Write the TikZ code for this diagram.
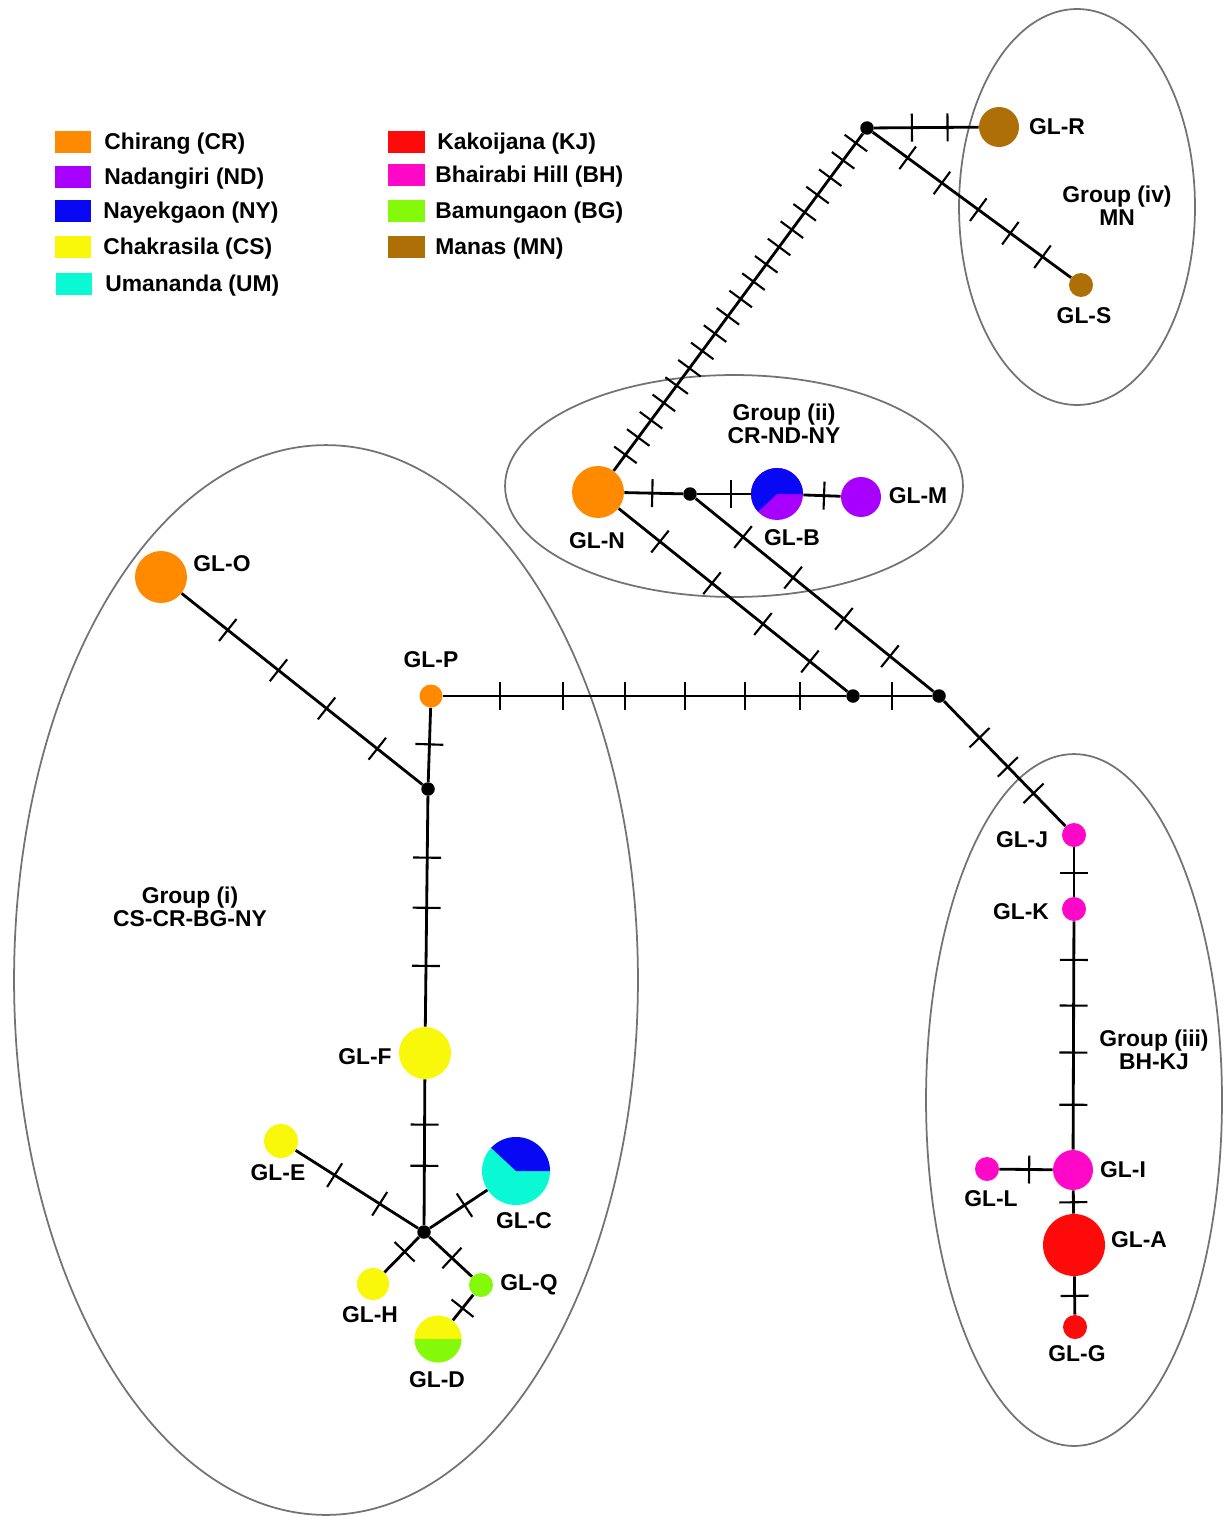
\documentclass[tikz,border=0pt]{standalone}
\usepackage{fontspec}
\setmainfont{Liberation Sans}
\usetikzlibrary{calc}
\definecolor{cr}{RGB}{255,138,0}
\definecolor{nd}{RGB}{168,0,255}
\definecolor{ny}{RGB}{8,8,245}
\definecolor{cs}{RGB}{250,248,10}
\definecolor{um}{RGB}{10,248,212}
\definecolor{kj}{RGB}{255,10,10}
\definecolor{bh}{RGB}{255,8,200}
\definecolor{bg}{RGB}{132,250,10}
\definecolor{mn}{RGB}{174,112,6}
\newcommand{\muts}[3]
{
	\foreach \pp in {#3}
		\draw[mutline] ($(#1)!\pp!(#2)!0.28cm!90:(#2)$) -- ($(#1)!\pp!(#2)!0.28cm!-90:(#2)$);
}
\tikzset{
	hap/.style={circle, inner sep=0pt, minimum size=#1},
	vert/.style={circle, fill=black, inner sep=0pt, minimum size=0.27cm},
	branch/.style={line width=1.6pt},
	mutline/.style={line width=1.2pt},
	lbl/.style={font=\bfseries\fontsize{13}{13}\selectfont, inner sep=0pt},
	grp/.style={draw=black!55, line width=1pt},
	sq/.style={inner sep=0pt, minimum width=0.74cm, minimum height=0.44cm},
}

\begin{document}
\begin{tikzpicture}[x=0.02cm, y=-0.02cm]
	\useasboundingbox (0,0) rectangle (1230,1517);
	% groups
	\draw[grp] (326,980) ellipse [x radius=6.24cm, y radius=10.7cm];
	\draw[grp] (734,486) ellipse [x radius=4.58cm, y radius=2.22cm];
	\draw[grp] (1074,1100) ellipse [x radius=2.96cm, y radius=6.92cm];
	\draw[grp] (1077,207) ellipse [x radius=2.36cm, y radius=3.96cm];
	\node[lbl, align=center] (g1) at (190,907) {Group (i)\\CS-CR-BG-NY};
	\node[lbl, align=center] (g2) at (784,424) {Group (ii)\\CR-ND-NY};
	\node[lbl, align=center] (g3) at (1154,1050) {Group (iii)\\BH-KJ};
	\node[lbl, align=center] (g4) at (1117,206) {Group (iv)\\MN};
	% legend
	\node[sq, fill=cr] (kCR) at (73,142) {}; \node[lbl, anchor=west] (tCR) at (104,144) {Chirang (CR)};
	\node[sq, fill=nd] (kND) at (73,177) {}; \node[lbl, anchor=west] (tND) at (104,179) {Nadangiri (ND)};
	\node[sq, fill=ny] (kNY) at (73,211) {}; \node[lbl, anchor=west] (tNY) at (103,213) {Nayekgaon (NY)};
	\node[sq, fill=cs] (kCS) at (73,247) {}; \node[lbl, anchor=west] (tCS) at (103,249) {Chakrasila (CS)};
	\node[sq, fill=um] (kUM) at (74,284) {}; \node[lbl, anchor=west] (tUM) at (105,286) {Umananda (UM)};
	\node[sq, fill=kj] (kKJ) at (406,142) {}; \node[lbl, anchor=west] (tKJ) at (437,144) {Kakoijana (KJ)};
	\node[sq, fill=bh] (kBH) at (406,175) {}; \node[lbl, anchor=west] (tBH) at (435,177) {Bhairabi Hill (BH)};
	\node[sq, fill=bg] (kBG) at (406,211) {}; \node[lbl, anchor=west] (tBG) at (435,213) {Bamungaon (BG)};
	\node[sq, fill=mn] (kMN) at (406,247) {}; \node[lbl, anchor=west] (tMN) at (435,249) {Manas (MN)};
	% median vectors
	\node[vert] (v1) at (867,128) {};
	\node[vert] (v2) at (690,494) {};
	\node[vert] (v3) at (853,696) {};
	\node[vert] (v4) at (939,696) {};
	\node[vert] (v5) at (428,789) {};
	\node[vert] (v6) at (424,1232) {};
	% haplotypes
	\node[hap=1.04cm, fill=cr] (hN) at (598,492) {};
	\node[hap=1.04cm, fill=nd] (hB) at (777,494) {};
	\node[hap=0.80cm, fill=nd] (hM) at (861,497) {};
	\node[hap=0.80cm, fill=mn] (hR) at (999,127) {};
	\node[hap=0.48cm, fill=mn] (hS) at (1081,285) {};
	\node[hap=1.04cm, fill=cr] (hO) at (161,577) {};
	\node[hap=0.46cm, fill=cr] (hP) at (431,696) {};
	\node[hap=1.04cm, fill=cs] (hF) at (425,1053) {};
	\node[hap=0.68cm, fill=cs] (hE) at (281,1141) {};
	\node[hap=1.36cm, fill=um] (hC) at (516,1171) {};
	\node[hap=0.64cm, fill=cs] (hH) at (373,1284) {};
	\node[hap=0.48cm, fill=bg] (hQ) at (481,1285) {};
	\node[hap=0.94cm, fill=cs] (hD) at (438,1339) {};
	\node[hap=0.48cm, fill=bh] (hJ) at (1074,835) {};
	\node[hap=0.48cm, fill=bh] (hK) at (1074,909) {};
	\node[hap=0.80cm, fill=bh] (hI) at (1073,1170) {};
	\node[hap=0.48cm, fill=bh] (hL) at (987,1169) {};
	\node[hap=1.24cm, fill=kj] (hA) at (1074,1245) {};
	\node[hap=0.48cm, fill=kj] (hG) at (1075,1327) {};
	% pies
	\fill[ny] (hB.center) -- ++(0:0.52cm) arc[start angle=0, end angle=223, radius=0.52cm] -- cycle;
	\fill[ny] (hC.center) -- ++(0:0.68cm) arc[start angle=0, end angle=137, radius=0.68cm] -- cycle;
	\fill[bg] (hD.center) -- ++(180:0.47cm) arc[start angle=180, end angle=360, radius=0.47cm] -- cycle;
	% edges
	\draw[branch] (hN) -- (v1);
	\draw[branch] (v1) -- (hR);
	\draw[branch] (v1) -- (hS);
	\draw[branch] (hN) -- (v2);
	\draw[branch] (v2) -- (hB);
	\draw[branch] (hB) -- (hM);
	\draw[branch] (hN) -- (v3);
	\draw[branch] (v2) -- (v4);
	\draw[branch] (hP) -- (v3);
	\draw[branch] (v3) -- (v4);
	\draw[branch] (v4) -- (hJ);
	\draw[branch] (hP) -- (v5);
	\draw[branch] (hO) -- (v5);
	\draw[branch] (v5) -- (hF);
	\draw[branch] (hF) -- (v6);
	\draw[branch] (v6) -- (hE);
	\draw[branch] (v6) -- (hC);
	\draw[branch] (v6) -- (hH);
	\draw[branch] (v6) -- (hQ);
	\draw[branch] (hQ) -- (hD);
	\draw[branch] (hJ) -- (hK);
	\draw[branch] (hK) -- (hI);
	\draw[branch] (hL) -- (hI);
	\draw[branch] (hI) -- (hA);
	\draw[branch] (hA) -- (hG);
	% mutation steps
	\muts{hN}{v1}{0.102,0.1496,...,0.97}
	\muts{v1}{hR}{0.34,0.61}
	\muts{v1}{hS}{0.19,0.35,0.52,0.67,0.82}
	\muts{hN}{v2}{0.59}
	\muts{v2}{hB}{0.47}
	\muts{hB}{hM}{0.56}
	\muts{hN}{v3}{0.243,0.447,0.647,0.831}
	\muts{v2}{v4}{0.213,0.414,0.618,0.803}
	\muts{hP}{v3}{0.164,0.313,0.46,0.602,0.744,0.874}
	\muts{v3}{v4}{0.45}
	\muts{v4}{hJ}{0.3,0.51,0.7}
	\muts{hP}{v5}{0.52}
	\muts{hO}{v5}{0.25,0.44,0.62,0.81}
	\muts{v5}{hF}{0.26,0.45,0.67}
	\muts{hF}{v6}{0.4,0.63}
	\muts{v6}{hE}{0.31,0.625}
	\muts{v6}{hC}{0.44}
	\muts{v6}{hH}{0.38}
	\muts{v6}{hQ}{0.49}
	\muts{hQ}{hD}{0.43}
	\muts{hJ}{hK}{0.51}
	\muts{hK}{hI}{0.195,0.37,0.55,0.75}
	\muts{hL}{hI}{0.49}
	\muts{hI}{hA}{0.43}
	\muts{hA}{hG}{0.62}
	% labels
	\node[lbl] (lN) at (597,541) {GL-N};
	\node[lbl] (lB) at (792,538) {GL-B};
	\node[lbl] (lM) at (918,496) {GL-M};
	\node[lbl] (lR) at (1057,127) {GL-R};
	\node[lbl] (lS) at (1084,316) {GL-S};
	\node[lbl] (lO) at (222,564) {GL-O};
	\node[lbl] (lP) at (431,660) {GL-P};
	\node[lbl] (lF) at (365,1057) {GL-F};
	\node[lbl] (lE) at (278,1173) {GL-E};
	\node[lbl] (lC) at (524,1221) {GL-C};
	\node[lbl] (lH) at (370,1315) {GL-H};
	\node[lbl] (lQ) at (529,1285) {GL-Q};
	\node[lbl] (lD) at (437,1380) {GL-D};
	\node[lbl] (lJ) at (1022,840) {GL-J};
	\node[lbl] (lK) at (1021,912) {GL-K};
	\node[lbl] (lI) at (1123,1170) {GL-I};
	\node[lbl] (lL) at (991,1199) {GL-L};
	\node[lbl] (lA) at (1139,1240) {GL-A};
	\node[lbl] (lG) at (1077,1354) {GL-G};
\end{tikzpicture}
\end{document}
